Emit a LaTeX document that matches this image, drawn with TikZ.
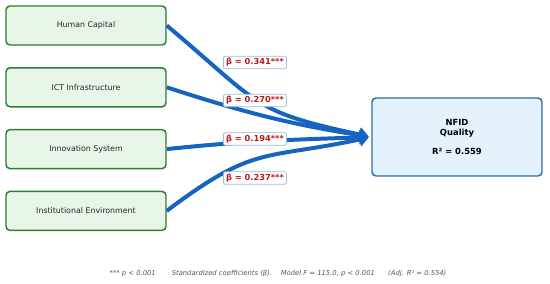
\documentclass[tikz,border=0pt]{standalone}
\usepackage{fontspec}
\setmainfont{DejaVu Sans}
\usetikzlibrary{arrows.meta,positioning}

\definecolor{factorfill}{HTML}{E8F5E9}
\definecolor{factordraw}{HTML}{2E7D32}
\definecolor{outcomefill}{HTML}{E3F2FD}
\definecolor{outcomedraw}{HTML}{2F6DA8}
\definecolor{pathblue}{HTML}{1565C0}
\definecolor{coefred}{HTML}{B71C1C}
\definecolor{coefdraw}{HTML}{9BBCDB}
\definecolor{notegray}{HTML}{555555}

\begin{document}
\begin{tikzpicture}[
  x=0.75pt, y=-0.75pt,
  font=\fontsize{5.9}{7}\selectfont,
  factor/.style={
    draw=factordraw,
    fill=factorfill,
    line width=1.1pt,
    rounded corners=3pt,
    align=center,
    text=black!85,
    minimum width=120pt,
    minimum height=29.25pt,
    inner sep=3pt
  },
  outcome/.style={
    draw=outcomedraw,
    fill=outcomefill,
    line width=1.1pt,
    rounded corners=3pt,
    align=center,
    minimum width=127.5pt,
    minimum height=58.5pt,
    font=\fontsize{6.3}{7.4}\selectfont\bfseries
  },
  coef/.style={
    draw=coefdraw,
    fill=white,
    line width=0.6pt,
    rounded corners=1pt,
    inner xsep=2pt,
    inner ysep=1.6pt,
    text=coefred,
    font=\fontsize{6.2}{7.4}\selectfont\bfseries
  },
  path/.style={
    draw=pathblue,
    line width=3pt,
    -{Triangle[length=7pt,width=10.5pt]},
    shorten >=2pt
  }
]
\useasboundingbox (0,0) rectangle (550,284);

\node[factor] (human) at (86,25.5) {Human Capital};
\node[factor, below=16pt of human] (ict) {ICT Infrastructure};
\node[factor, below=16pt of ict] (innov) {Innovation System};
\node[factor, below=16pt of innov] (inst) {Institutional Environment};

\node[outcome] (nfid) at (457,137) {NFID\\Quality\\[7pt]R² = 0.559};

% paths into the outcome
\draw[path] (human.east) to[out=-40, in=168, looseness=1.35] (nfid.west);
\draw[path] (ict.east) to[out=-18, in=171] (nfid.west);
\draw[path] (innov.east) to[out=6, in=-178] (nfid.west);
\draw[path] (inst.east) to[out=37, in=-168, looseness=1.3] (nfid.west);

% coefficients
\node[coef] (b1) at (255,62.5) {β = 0.341***};
\node[coef] (b2) at (255,100.5) {β = 0.270***};
\node[coef] (b3) at (255,139) {β = 0.194***};
\node[coef] (b4) at (255,178) {β = 0.237***};

\node[text=notegray, font=\fontsize{5.1}{6.1}\selectfont\itshape] (note) at (278,274)
  {*** p < 0.001\hspace{12pt}Standardized coefficients (β).\hspace{6.5pt}Model F = 115.0, p < 0.001\hspace{10pt}(Adj. R² = 0.554)};

\end{tikzpicture}
\end{document}
